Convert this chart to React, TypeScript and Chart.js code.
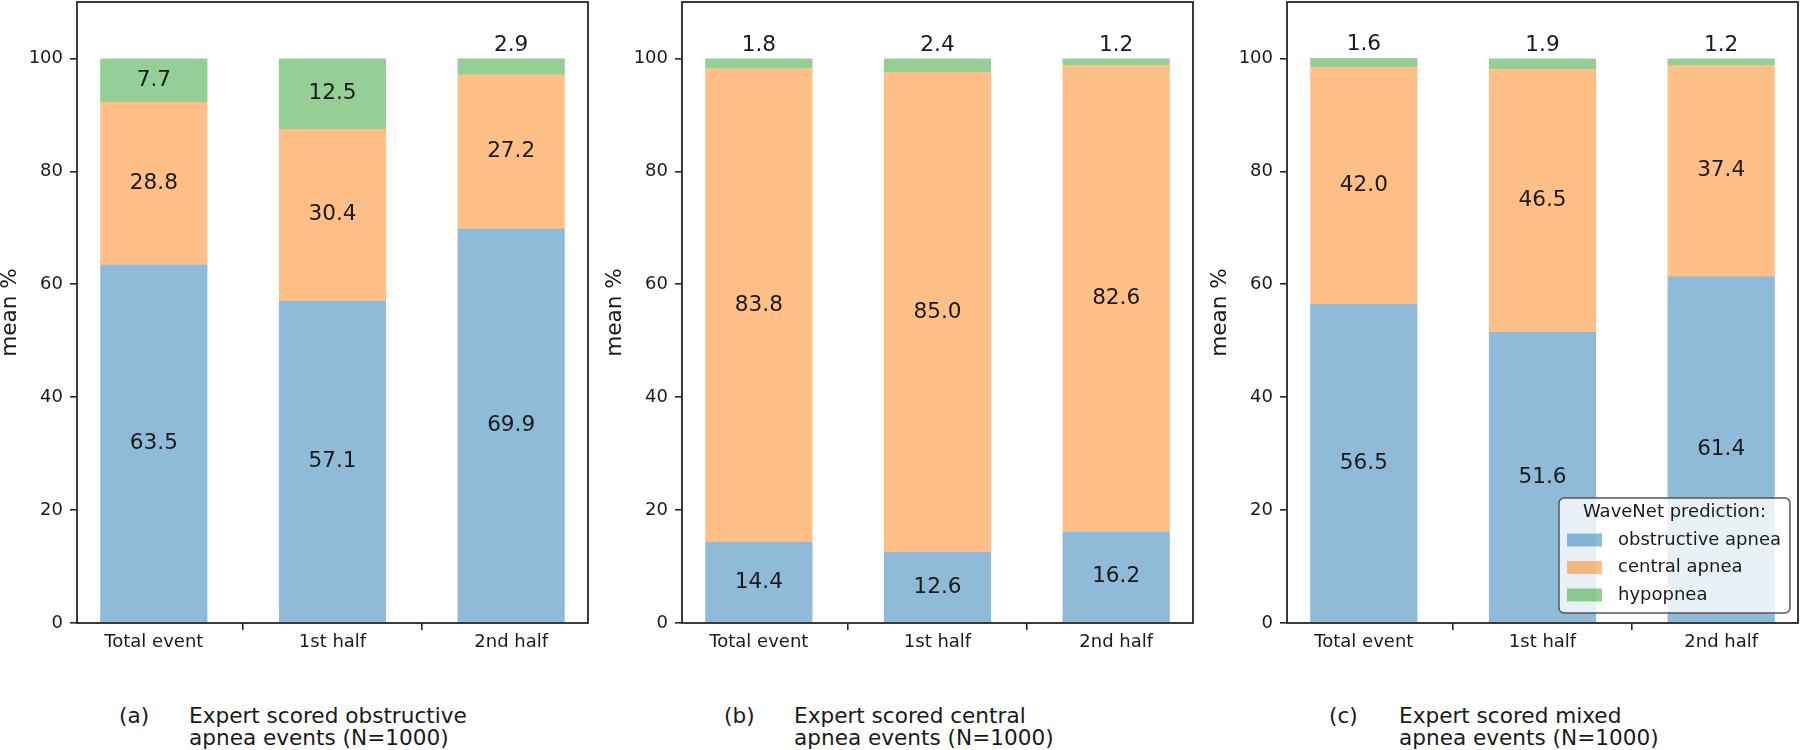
import React, { useEffect, useRef } from 'react';
import { Chart, registerables } from 'chart.js';

Chart.register(...registerables);
Chart.defaults.font.family = '"DejaVu Sans", sans-serif';
Chart.defaults.color = '#1a1a1a';

// ---------- data ----------
const CATEGORIES = ['Total event', '1st half', '2nd half'];
const SERIES_NAMES = ['obstructive apnea', 'central apnea', 'hypopnea'];
const SERIES_COLORS = ['rgba(31,119,180,0.5)', 'rgba(255,127,14,0.5)', 'rgba(44,160,44,0.5)'];

const OBSTRUCTIVE_A = [63.5, 57.1, 69.9];
const CENTRAL_A = [28.8, 30.4, 27.2];
const HYPOPNEA_A = [7.7, 12.5, 2.9];

const OBSTRUCTIVE_B = [14.4, 12.6, 16.2];
const CENTRAL_B = [83.8, 85.0, 82.6];
const HYPOPNEA_B = [1.8, 2.4, 1.2];

const OBSTRUCTIVE_C = [56.5, 51.6, 61.4];
const CENTRAL_C = [42.0, 46.5, 37.4];
const HYPOPNEA_C = [1.6, 1.9, 1.2];

const Y_TICKS = [0, 20, 40, 60, 80, 100];
const Y_MAX = 110;
const Y_TITLE = 'mean %';
const LEGEND_TITLE = 'WaveNet prediction:';
const CAPTION_TAGS = ['(a)', '(b)', '(c)'];
const CAPTION_LINES = [
  ['Expert scored obstructive', 'apnea events (N=1000)'],
  ['Expert scored central', 'apnea events (N=1000)'],
  ['Expert scored mixed', 'apnea events (N=1000)'],
];

// ---------- layout ----------
const CANVAS_W = 590;
const CANVAS_H = 665;
const Y_AXIS_W = 77;
const X_AXIS_H = 42;
const PANEL_LEFTS = [0, 605, 1210];
const INK = '#1a1a1a';
const FONT = '"DejaVu Sans", sans-serif';

const valueLabelPlugin = {
  id: 'valueLabels',
  afterDatasetsDraw(chart: any) {
    const ctx = chart.ctx;
    ctx.save();
    ctx.font = `21.6px ${FONT}`;
    ctx.fillStyle = INK;
    ctx.textAlign = 'center';
    ctx.textBaseline = 'middle';
    chart.data.datasets.forEach((ds: any, i: number) => {
      const meta = chart.getDatasetMeta(i);
      meta.data.forEach((el: any, j: number) => {
        const v = ds.data[j].y;
        const txt = v.toFixed(1);
        if (v < 5) {
          const top = Math.min(el.y, el.base);
          ctx.fillText(txt, el.x, top - 13);
        } else {
          ctx.fillText(txt, el.x, (el.y + el.base) / 2);
        }
      });
    });
    ctx.restore();
  },
};

const framePlugin = {
  id: 'frame',
  afterDraw(chart: any) {
    const { ctx, chartArea: ca } = chart;
    ctx.save();
    ctx.strokeStyle = '#262626';
    ctx.lineWidth = 1.8;
    ctx.strokeRect(ca.left, ca.top, ca.right - ca.left, ca.bottom - ca.top);
    ctx.restore();
  },
};

const legendPlugin = {
  id: 'innerLegend',
  afterDraw(chart: any) {
    if (!chart.options.plugins.innerLegend || !chart.options.plugins.innerLegend.show) return;
    const { ctx, chartArea: ca } = chart;
    const w = 231;
    const h = 115;
    const x0 = ca.right - 8 - w;
    const y0 = ca.bottom - 10 - h;
    const r = 5;
    ctx.save();
    ctx.beginPath();
    ctx.moveTo(x0 + r, y0);
    ctx.arcTo(x0 + w, y0, x0 + w, y0 + h, r);
    ctx.arcTo(x0 + w, y0 + h, x0, y0 + h, r);
    ctx.arcTo(x0, y0 + h, x0, y0, r);
    ctx.arcTo(x0, y0, x0 + w, y0, r);
    ctx.closePath();
    ctx.fillStyle = 'rgba(255,255,255,0.8)';
    ctx.fill();
    ctx.strokeStyle = '#555';
    ctx.lineWidth = 1.5;
    ctx.stroke();
    ctx.font = `18px ${FONT}`;
    ctx.fillStyle = INK;
    ctx.textBaseline = 'middle';
    ctx.textAlign = 'center';
    ctx.fillText(LEGEND_TITLE, x0 + w / 2, y0 + 14);
    ctx.textAlign = 'left';
    chart.data.datasets.forEach((ds: any, i: number) => {
      const cy = y0 + 42 + i * 27.5;
      ctx.fillStyle = ds.backgroundColor;
      ctx.fillRect(x0 + 8, cy - 6.5, 35, 13);
      ctx.fillStyle = INK;
      ctx.fillText(ds.label, x0 + 59, cy);
    });
    ctx.restore();
  },
};

function Panel({ series, left, showLegend }: { series: number[][]; left: number; showLegend: boolean }) {
  const ref = useRef<HTMLCanvasElement | null>(null);
  useEffect(() => {
    if (!ref.current) return;
    const chart = new Chart(ref.current, {
      type: 'bar',
      data: {
        datasets: series.map((vals, k) => ({
          label: SERIES_NAMES[k],
          data: vals.map((v, i) => ({ x: i, y: v })),
          backgroundColor: SERIES_COLORS[k],
          borderWidth: 0,
          barPercentage: 0.6,
          categoryPercentage: 1.0,
        })),
      },
      options: {
        responsive: false,
        animation: false,
        layout: { padding: { top: 2, left: 0, right: 2, bottom: 0 } },
        plugins: {
          legend: { display: false },
          tooltip: { enabled: false },
          innerLegend: { show: showLegend },
        } as any,
        scales: {
          x: {
            type: 'linear',
            stacked: true,
            min: -0.43,
            max: 2.43,
            offset: false,
            border: { display: false },
            grid: { display: true, drawOnChartArea: false, drawTicks: true, tickLength: 7, color: '#262626', lineWidth: 1.6 },
            ticks: {
              font: { size: 18 },
              color: INK,
              padding: 2,
              maxRotation: 0,
              autoSkip: false,
              callback: (v: any) => CATEGORIES[v as number] ?? '',
            },
            afterBuildTicks: (scale: any) => {
              scale.ticks = CATEGORIES.map((_, i) => ({ value: i }));
            },
            afterFit: (scale: any) => {
              scale.height = X_AXIS_H;
              scale.paddingLeft = 0;
              scale.paddingRight = 0;
            },
          },
          y: {
            type: 'linear',
            stacked: true,
            min: 0,
            max: Y_MAX,
            border: { display: false },
            grid: { display: true, drawOnChartArea: false, drawTicks: true, tickLength: 7, color: '#262626', lineWidth: 1.6 },
            ticks: { font: { size: 18 }, color: INK, padding: 7 },
            afterBuildTicks: (scale: any) => {
              scale.ticks = Y_TICKS.map((v) => ({ value: v }));
            },
            afterFit: (scale: any) => {
              scale.width = Y_AXIS_W;
              scale.paddingTop = 0;
              scale.paddingBottom = 0;
            },
            title: {
              display: true,
              text: Y_TITLE,
              font: { size: 21.6, lineHeight: 1 },
              color: INK,
              padding: { top: 0, bottom: 0 },
            },
          },
        },
      } as any,
      plugins: [valueLabelPlugin, framePlugin, legendPlugin],
    });
    return () => chart.destroy();
  }, []);
  return (
    <canvas
      ref={ref}
      width={CANVAS_W}
      height={CANVAS_H}
      style={{ position: 'absolute', left, top: 0, width: CANVAS_W, height: CANVAS_H }}
    />
  );
}

export default function App() {
  const panels = [
    [OBSTRUCTIVE_A, CENTRAL_A, HYPOPNEA_A],
    [OBSTRUCTIVE_B, CENTRAL_B, HYPOPNEA_B],
    [OBSTRUCTIVE_C, CENTRAL_C, HYPOPNEA_C],
  ];
  const capStyle: React.CSSProperties = {
    position: 'absolute',
    top: 705,
    fontFamily: FONT,
    fontSize: '21.6px',
    lineHeight: '22px',
    color: INK,
    whiteSpace: 'nowrap',
  };
  return (
    <div
      style={{
        position: 'absolute',
        left: 0,
        top: 0,
        width: 1800,
        height: 750,
        overflow: 'hidden',
        background: '#fff',
      }}
    >
      {panels.map((s, i) => (
        <Panel key={i} series={s} left={PANEL_LEFTS[i]} showLegend={i === 2} />
      ))}
      {PANEL_LEFTS.map((pl, i) => (
        <React.Fragment key={'cap' + i}>
          <div style={{ ...capStyle, left: pl + Y_AXIS_W + 42 }}>{CAPTION_TAGS[i]}</div>
          <div style={{ ...capStyle, left: pl + Y_AXIS_W + 112 }}>
            <div>{CAPTION_LINES[i][0]}</div>
            <div>{CAPTION_LINES[i][1]}</div>
          </div>
        </React.Fragment>
      ))}
    </div>
  );
}
